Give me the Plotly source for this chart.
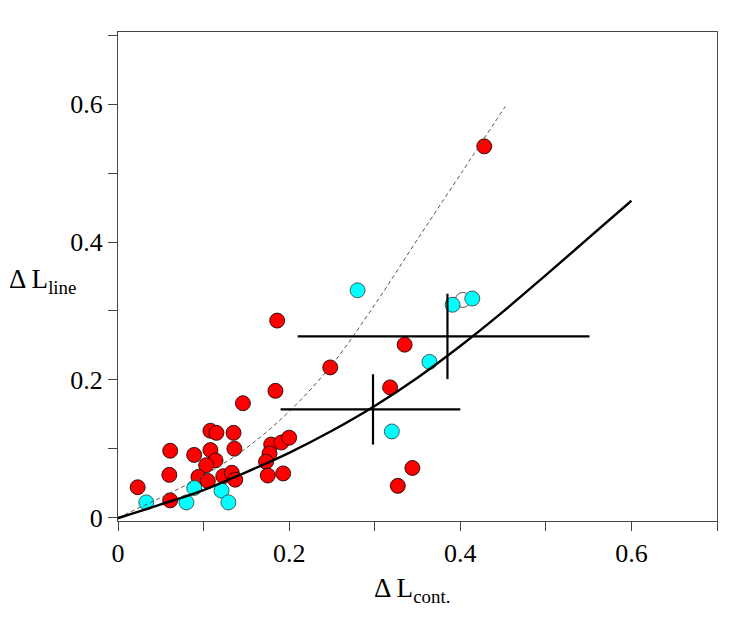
import plotly.graph_objects as go

# red sample
red_x = [0.428, 0.186, 0.335, 0.248, 0.318, 0.184, 0.146, 0.108, 0.115, 0.135,
         0.061, 0.108, 0.136, 0.089, 0.179, 0.191, 0.200, 0.177, 0.173, 0.114,
         0.103, 0.060, 0.094, 0.105, 0.123, 0.133, 0.137, 0.175, 0.193, 0.344,
         0.327, 0.023, 0.061]
red_y = [0.539, 0.286, 0.251, 0.218, 0.189, 0.184, 0.166, 0.126, 0.123, 0.123,
         0.097, 0.098, 0.100, 0.091, 0.106, 0.109, 0.116, 0.093, 0.081, 0.083,
         0.076, 0.062, 0.059, 0.053, 0.060, 0.065, 0.055, 0.061, 0.064, 0.072,
         0.046, 0.044, 0.025]

# cyan sample
cyan_x = [0.033, 0.080, 0.089, 0.121, 0.129, 0.320, 0.280, 0.364, 0.391, 0.414]
cyan_y = [0.022, 0.022, 0.043, 0.039, 0.022, 0.125, 0.330, 0.226, 0.309, 0.318]

# open symbol
open_x = [0.403]
open_y = [0.316]

# mean values with spread
mean_x = [0.298, 0.385]
mean_y = [0.157, 0.263]
err_x_plus = [0.102, 0.166]
err_x_minus = [0.108, 0.175]
err_y = [0.051, 0.062]

# fitted curves
fit_x = [-0.003, 0.05, 0.1, 0.15, 0.2, 0.25, 0.3, 0.35, 0.4, 0.45, 0.5, 0.55, 0.6]
fit_y = [-0.002, 0.019, 0.040, 0.066, 0.094, 0.126, 0.162, 0.203, 0.249, 0.299, 0.352, 0.406, 0.460]

dash_x = [0.0, 0.05, 0.1, 0.15, 0.2, 0.25, 0.3, 0.35, 0.4, 0.4526]
dash_y = [0.0, 0.029, 0.061, 0.101, 0.154, 0.222, 0.309, 0.404, 0.498, 0.597]

FONT = "Liberation Serif"

fig = go.Figure()

fig.add_trace(go.Scatter(x=red_x, y=red_y, mode="markers",
                         marker=dict(size=15, color="#ff0000",
                                     line=dict(color="black", width=0.8))))
fig.add_trace(go.Scatter(x=open_x, y=open_y, mode="markers",
                         marker=dict(size=15, color="rgba(0,0,0,0)",
                                     line=dict(color="#555555", width=1))))
fig.add_trace(go.Scatter(x=cyan_x, y=cyan_y, mode="markers",
                         marker=dict(size=15, color="#00ffff",
                                     line=dict(color="#333333", width=0.8))))

fig.add_trace(go.Scatter(x=dash_x, y=dash_y, mode="lines", line_shape="spline",
                         line=dict(color="#555555", width=1, dash="4px,3px")))
fig.add_trace(go.Scatter(x=fit_x, y=fit_y, mode="lines", line_shape="spline",
                         line=dict(color="black", width=2.4)))

fig.add_trace(go.Scatter(
    x=mean_x, y=mean_y, mode="markers",
    marker=dict(size=1, color="rgba(0,0,0,0)"),
    error_x=dict(type="data", symmetric=False, array=err_x_plus,
                 arrayminus=err_x_minus, width=0, thickness=2.2, color="black"),
    error_y=dict(type="data", array=err_y, width=0, thickness=2.2, color="black"),
))

axis_style = dict(
    showgrid=False, zeroline=False, showline=True, mirror=True,
    linecolor="#444444", linewidth=1,
    ticks="outside", ticklen=9, tickcolor="#444444", tickwidth=1,
    tick0=0, dtick=0.2,
    minor=dict(dtick=0.1, ticks="outside", ticklen=9, tickcolor="#444444", showgrid=False),
    tickfont=dict(family=FONT, size=26, color="black"),
)

fig.update_layout(
    width=747, height=628,
    margin=dict(l=110, r=38, t=24, b=115),
    paper_bgcolor="white", plot_bgcolor="white",
    showlegend=False,
    xaxis=dict(range=[0, 0.7], **axis_style),
    yaxis=dict(range=[-0.005, 0.705], **axis_style),
    annotations=[
        dict(text="Δ L<sub>cont.</sub>", xref="paper", yref="paper",
             x=0.49, y=-0.142, xanchor="center", yanchor="middle", showarrow=False,
             font=dict(family=FONT, size=27, color="black")),
        dict(text="Δ L<sub>line</sub>", xref="paper", yref="paper",
             x=-0.186, y=0.49, xanchor="left", yanchor="middle", showarrow=False,
             font=dict(family=FONT, size=27, color="black")),
    ],
)

fig.write_html("out.html")
